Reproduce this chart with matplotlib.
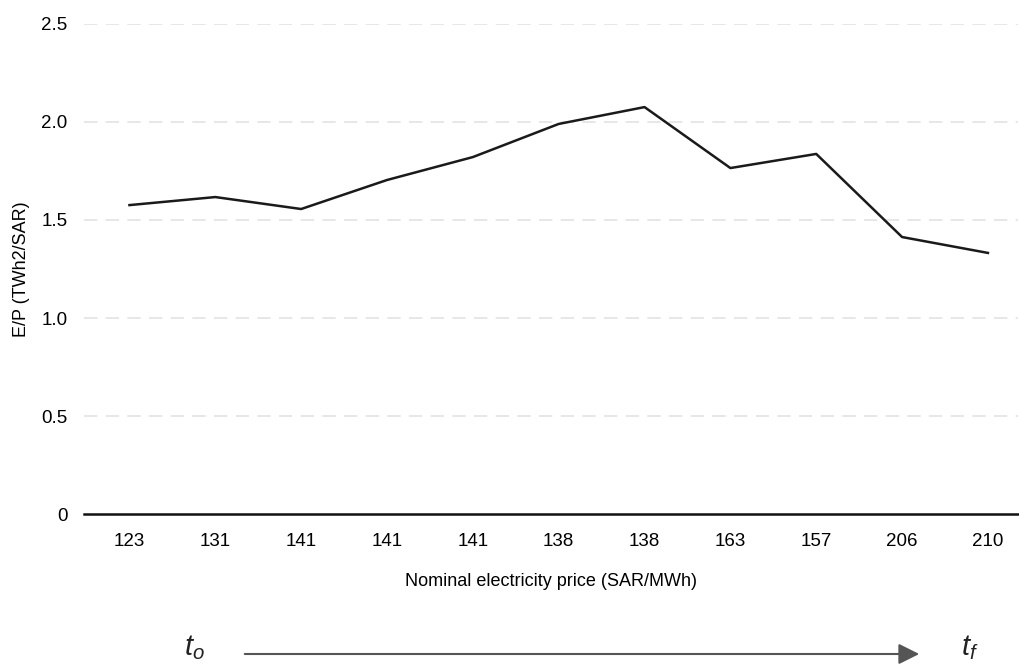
import matplotlib.pyplot as plt
from matplotlib.patches import FancyArrowPatch

plt.rcParams['font.family'] = ['Liberation Sans', 'DejaVu Sans']
plt.rcParams['mathtext.fontset'] = 'custom'
plt.rcParams['mathtext.it'] = 'Liberation Sans:italic'
plt.rcParams['mathtext.rm'] = 'Liberation Sans'

# Data
prices = ['123', '131', '141', '141', '141', '138', '138', '163', '157', '206', '210']
ep_ratio = [1.576, 1.617, 1.556, 1.704, 1.821, 1.990, 2.076, 1.765, 1.837, 1.413, 1.332]
yticks = [0, 0.5, 1.0, 1.5, 2.0, 2.5]
ytick_labels = ['0', '0.5', '1.0', '1.5', '2.0', '2.5']

fig = plt.figure(figsize=(10.19, 6.66), dpi=100)
ax = fig.add_axes([0.0824, 0.2282, 0.9166, 0.7358])

x = list(range(len(prices)))
ax.plot(x, ep_ratio, color='#1a1a1a', linewidth=1.8)

ax.set_xlim(-0.53, 10.35)
ax.set_ylim(0, 2.5)
ax.set_xticks(x)
ax.set_xticklabels(prices, fontsize=13.5)
ax.set_yticks(yticks)
ax.set_yticklabels(ytick_labels, fontsize=13.5)
ax.tick_params(axis='x', length=0, pad=14)
ax.tick_params(axis='y', length=0, pad=12)

for y in yticks[1:]:
    ax.axhline(y, color='#e3e3e3', linewidth=1.2, linestyle=(0, (8, 5)), zorder=0)

for s in ['top', 'right', 'left']:
    ax.spines[s].set_visible(False)
ax.spines['bottom'].set_linewidth(1.8)
ax.spines['bottom'].set_color('#111111')

ax.set_xlabel('Nominal electricity price (SAR/MWh)', fontsize=13, labelpad=16)
ax.set_ylabel('E/P (TWh2/SAR)', fontsize=13)
ax.yaxis.set_label_coords(-0.058, 0.5)

# timeline arrow below the chart
fig.text(194 / 1019, 1 - 648 / 666, r'$t_o$', fontsize=21, ha='center', va='center', color='#222222')
fig.text(970 / 1019, 1 - 648 / 666, r'$t_f$', fontsize=21, ha='center', va='center', color='#222222')
fig.add_artist(FancyArrowPatch(
    (242 / 1019, 1 - 654 / 666), (922 / 1019, 1 - 654 / 666),
    transform=fig.transFigure, arrowstyle='-|>,head_length=0.9,head_width=0.45',
    mutation_scale=14, color='#555555', linewidth=1.5))

fig.savefig('out.png', dpi=100)
